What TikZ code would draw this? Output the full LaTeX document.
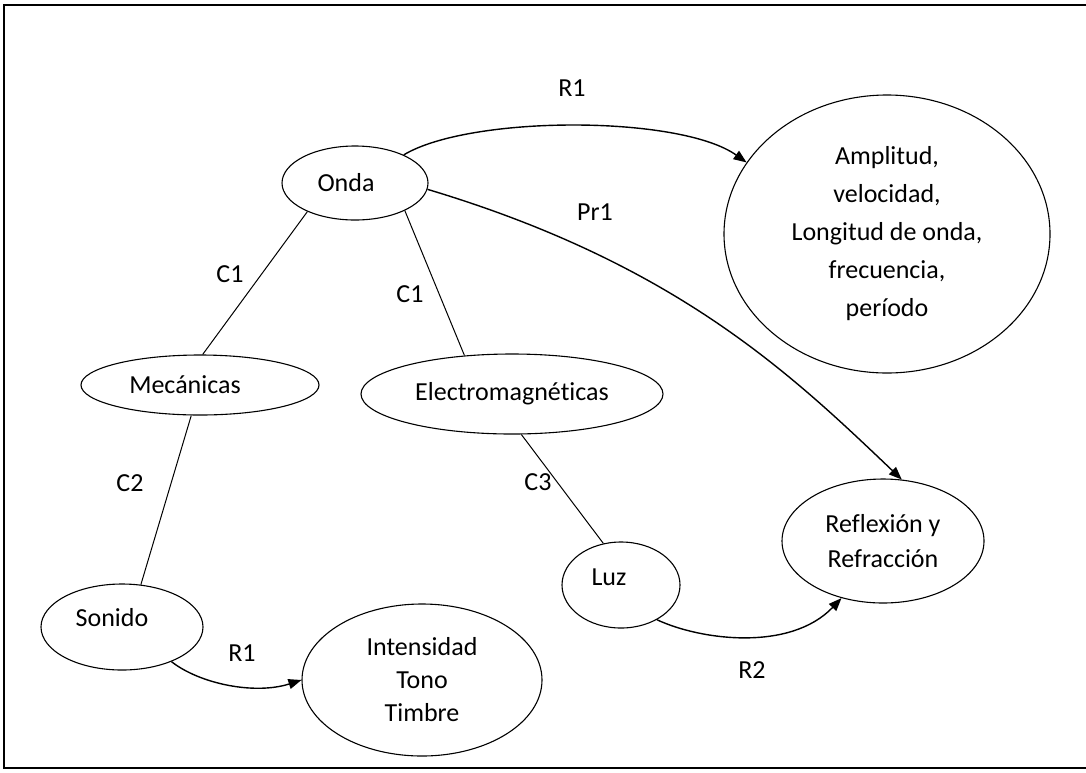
\documentclass[tikz,border=0pt]{standalone}
\usepackage{fontspec}
\setmainfont{Carlito}[Ligatures=NoCommon]
\usetikzlibrary{shapes.geometric,arrows.meta}

\begin{document}
\begin{tikzpicture}[x=1pt,y=-1pt,
  concept/.style={draw, ellipse, line width=1.1pt, inner sep=0pt, align=center,
    font=\fontsize{26}{38}\selectfont},
  tag/.style={font=\fontsize{26}{30}\selectfont, inner sep=0pt},
  link/.style={line width=1pt},
  relation/.style={line width=1.4pt, -{Triangle[length=13pt,width=10pt]}},
  frame/.style={line width=2.8pt, line cap=rect}
]
\useasboundingbox (0,0) rectangle (1086,772);

% open frame (top, left and bottom edges)
\draw[frame] (1090,5) -- (4,5) -- (4,768) -- (1090,768);

% concepts
\node[concept, minimum width=146pt, minimum height=74pt]  (onda)  at (355,183) {Onda\hspace*{18pt}};
\node[concept, minimum width=326pt, minimum height=278pt] (props) at (887,234)
  {Amplitud,\\velocidad,\\Longitud de onda,\\frecuencia,\\período};
\node[concept, minimum width=238pt, minimum height=60pt]  (mec)   at (200,385) {Mecánicas\hspace*{30pt}};
\node[concept, minimum width=302pt, minimum height=80pt]  (em)    at (512,394) {Electromagnéticas};
\node[concept, minimum width=162pt, minimum height=86pt]  (son)   at (122,627) {Sonido\hspace*{20pt}\\[-18pt]\mbox{}};
\node[concept, minimum width=118pt, minimum height=86pt]  (luz)   at (621,585) {Luz\hspace*{24pt}\\[-22pt]\mbox{}};
\node[concept, minimum width=202pt, minimum height=124pt, font=\fontsize{26}{35}\selectfont]
  (refl) at (883,541) {Reflexión y\\Refracción};
\node[concept, minimum width=240pt, minimum height=152pt, font=\fontsize{26}{33}\selectfont]
  (cual) at (422,680) {Intensidad\\Tono\\Timbre};

% classification links
\draw[link] (onda.211) -- (mec.85);
\draw[link] (onda.331) -- (em.141);
\draw[link] (mec.254) -- (son.66);
\draw[link] (em.283) -- (luz.113);

% relations
\draw[relation] (onda.30) .. controls (470,115) and (680,115) .. (props.153);
\draw[relation] (onda.355) .. controls (677,264) and (792,375) .. (refl.73);
\draw[relation] (son.325) .. controls (200,684) and (255,695) .. (cual.180);
\draw[relation] (luz.316) .. controls (700,640) and (790,652) .. (refl.234);

% link labels
\node[tag] (lr1)  at (572,88)  {R1};
\node[tag] (lpr1) at (595,212) {Pr1};
\node[tag] (lc1a) at (230,274) {C1};
\node[tag] (lc1b) at (410,294) {C1};
\node[tag] (lc2)  at (130,483) {C2};
\node[tag] (lc3)  at (538,482) {C3};
\node[tag] (lr1b) at (242,653) {R1};
\node[tag] (lr2)  at (752,670) {R2};
\end{tikzpicture}
\end{document}
